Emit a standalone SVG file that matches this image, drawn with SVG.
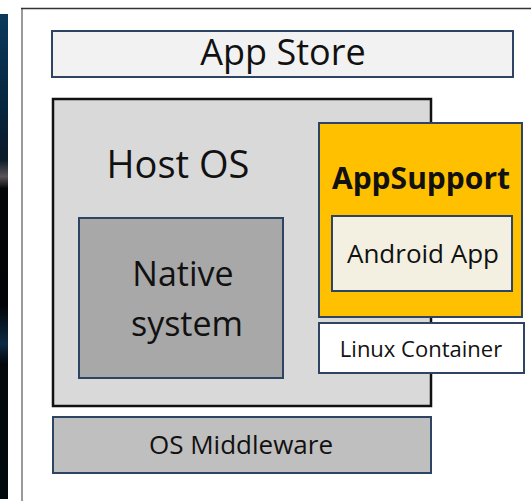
<svg xmlns="http://www.w3.org/2000/svg" width="531" height="501" viewBox="0 0 531 501">
  <defs>
    <linearGradient id="strip" x1="0" y1="0" x2="0" y2="1">
      <stop offset="0" stop-color="#0b3a5c"/>
      <stop offset="0.2" stop-color="#06243c"/>
      <stop offset="0.3" stop-color="#0a1a28"/>
      <stop offset="0.335" stop-color="#5a5458"/>
      <stop offset="0.36" stop-color="#050608"/>
      <stop offset="0.6" stop-color="#020407"/>
      <stop offset="0.68" stop-color="#0c2c44"/>
      <stop offset="0.72" stop-color="#03080c"/>
      <stop offset="1" stop-color="#000a0e"/>
    </linearGradient>
  </defs>
  <style>
    .box { stroke: #2d4563; stroke-width: 2; }
    .t { font-family: "Open Sans", "Noto Sans", "Liberation Sans", sans-serif; fill: #111; text-anchor: middle; }
  </style>
  <rect x="0" y="0" width="531" height="501" fill="#ffffff"/>
  <g id="frame">
    <rect x="0" y="14" width="8" height="485" fill="url(#strip)"/>
    <line x1="22" y1="8" x2="22" y2="501" stroke="#9a9a9a" stroke-width="2"/>
    <line x1="21" y1="8.5" x2="531" y2="8.5" stroke="#333333" stroke-width="1.5"/>
  </g>
  <g id="app-store">
    <rect class="box" x="52" y="31" width="461" height="46" fill="#f2f2f2"/>
    <text class="t" x="283" y="65" font-size="36">App Store</text>
  </g>
  <g id="host-os">
    <rect x="53" y="99" width="378" height="307" fill="#d9d9d9" stroke="#111111" stroke-width="2.5"/>
    <text class="t" x="178" y="178" font-size="38">Host OS</text>
  </g>
  <g id="native-system">
    <rect class="box" x="79" y="218" width="204" height="160" fill="#a8a8a8"/>
    <text class="t" x="183" y="286" font-size="34">Native</text>
    <text class="t" x="187" y="336" font-size="34">system</text>
  </g>
  <g id="appsupport">
    <rect class="box" x="319" y="123" width="203" height="194" fill="#ffc000"/>
    <text class="t" x="421" y="189" font-size="30" font-weight="bold">AppSupport</text>
  </g>
  <g id="android-app">
    <rect class="box" x="332" y="216" width="180" height="75" fill="#f3f0e1"/>
    <text class="t" x="423" y="263" font-size="26">Android App</text>
  </g>
  <g id="linux-container">
    <rect class="box" x="319" y="323" width="205" height="50" fill="#ffffff"/>
    <text class="t" x="421" y="357" font-size="22">Linux Container</text>
  </g>
  <g id="os-middleware">
    <rect class="box" x="53" y="417" width="378" height="56" fill="#bfbfbf"/>
    <text class="t" x="241" y="454" font-size="26">OS Middleware</text>
  </g>
  <g id="connectors"></g>
</svg>
